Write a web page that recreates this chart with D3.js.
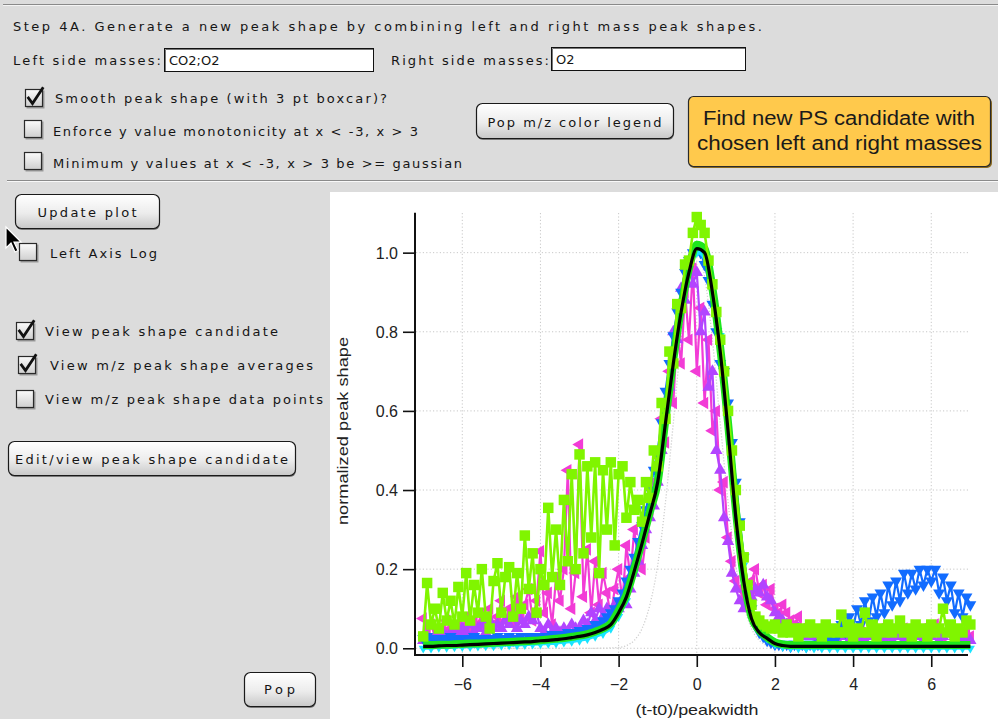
<!DOCTYPE html>
<html>
<head>
<meta charset="utf-8">
<script src="https://cdn.jsdelivr.net/npm/d3@7"></script>
<style>
  html, body { margin: 0; padding: 0; background: #dcdcdc; }
  svg { display: block; }
  .ui { font-family: "DejaVu Sans", Verdana, sans-serif; font-size: 13px; fill: #151515; }
  .ax { font-family: "Liberation Sans", Arial, sans-serif; fill: #222; }
</style>
</head>
<body>
<svg id="panel" width="998" height="719"></svg>
<script>
// ---------- data ----------
// abscissa grids: (t-t0)/peakwidth
const xFine = d3.range(141).map(i => +(-7 + i * 0.1).toFixed(1));
const xCoarse = d3.range(71).map(i => +(-7 + i * 0.2).toFixed(1));

const xTicks = [-6, -4, -2, 0, 2, 4, 6];
const yTicks = [0.0, 0.2, 0.4, 0.6, 0.8, 1.0];

// reference gaussian (coarse grid)
const gaussian = [
  0,0,0,0,0,0,0,0,0,0,
  0,0,0,0,0,0,0,0,0,0,
  0,0,0,0.0002,0.001,0.002,0.007,0.02,0.05,0.11,
  0.21,0.37,0.57,0.78,0.94,1.0,0.94,0.78,0.57,0.37,
  0.21,0.11,0.05,0.02,0.007,0.002,0.001,0,0,0,
  0,0,0,0,0,0,0,0,0,0,
  0,0,0,0,0,0,0,0,0,0,
  0
];

// m/z peak shape averages (fine grid)
const mzLime = [
  .03,.165,.06,.10,.05,.14,.07,.12,.06,.155,
  .08,.19,.07,.16,.09,.20,.08,.05,.17,.215,
  .09,.18,.205,.08,.19,.10,.285,.15,.24,.09,
  .20,.16,.355,.18,.30,.16,.375,.22,.44,.20,
  .49,.24,.46,.28,.47,.19,.45,.30,.47,.26,
  .44,.46,.33,.42,.35,.375,.32,.42,.38,.50,
  .46,.62,.58,.75,.72,.87,.86,.97,.98,1.05,
  1.09,1.07,1.05,.98,.92,.85,.78,.70,.60,.50,
  .40,.31,.23,.16,.11,.08,.07,.06,.055,.05,
  .06,.05,.04,.06,.04,.05,.03,.05,.04,.06,
  .04,.05,.03,.06,.04,.05,.04,.085,.04,.06,
  .03,.05,.04,.09,.04,.06,.03,.05,.04,.06,
  .04,.05,.07,.04,.05,.03,.06,.04,.05,.03,
  .06,.04,.05,.10,.04,.06,.03,.05,.04,.07,
  .06
];

const mzMagenta = [
  .075,.04,.06,.03,.05,.04,.07,.05,.04,.06,
  .05,.08,.04,.07,.06,.09,.05,.10,.06,.08,
  .12,.07,.10,.06,.13,.08,.11,.15,.07,.12,
  .245,.09,.14,.06,.18,.12,.20,.45,.10,.19,
  .515,.13,.25,.09,.22,.11,.19,.14,.08,.15,
  .20,.12,.26,.18,.30,.22,.20,.28,.35,.42,
  .45,.58,.52,.70,.62,.80,.72,.90,.78,.96,
  .70,.86,.62,.78,.55,.60,.40,.42,.28,.22,
  .17,.15,.12,.14,.17,.20,.14,.16,.11,.15,
  .10,.09,.11,.09,.07,.06,.08,.05,.04,.05,
  .03,.04,.03,.05,.03,.04,.03,.04,.05,.03,
  .04,.03,.05,.03,.04,.03,.04,.05,.03,.04,
  .03,.04,.03,.05,.04,.03,.04,.03,.05,.04,
  .05,.06,.04,.03,.04,.05,.03,.04,.03,.04,
  .03
];

const mzPurple = [
  .02,.03,.02,.03,.03,.04,.03,.04,.05,.04,
  .05,.04,.06,.04,.05,.06,.04,.07,.05,.06,
  .05,.07,.06,.08,.05,.07,.06,.08,.07,.09,
  .05,.04,.06,.04,.05,.04,.05,.04,.06,.05,
  .05,.07,.06,.09,.07,.10,.08,.10,.09,.11,
  .10,.12,.11,.15,.19,.22,.26,.30,.33,.36,
  .42,.50,.62,.66,.80,.78,.91,.88,.98,.92,
  .95,.80,.85,.66,.70,.50,.45,.33,.27,.19,
  .15,.12,.10,.11,.13,.15,.14,.16,.13,.12,
  .09,.08,.07,.06,.05,.04,.05,.03,.04,.03,
  .03,.02,.03,.04,.02,.03,.02,.03,.04,.02,
  .03,.02,.03,.02,.04,.03,.02,.03,.02,.03,
  .02,.03,.04,.02,.03,.02,.03,.04,.02,.03,
  .03,.04,.02,.03,.04,.05,.03,.02,.03,.02,
  .02
];

const mzBlue = [
  .025,.03,.02,.025,.02,.025,.02,.03,.02,.025,
  .02,.025,.02,.03,.02,.025,.02,.025,.02,.03,
  .025,.02,.03,.02,.025,.03,.02,.03,.025,.03,
  .03,.025,.03,.035,.03,.035,.03,.04,.035,.04,
  .045,.04,.05,.05,.06,.06,.07,.08,.09,.10,
  .12,.14,.17,.20,.23,.27,.31,.35,.40,.45,
  .50,.57,.65,.72,.79,.85,.90,.95,.98,1.0,
  1.01,1.0,.97,.93,.87,.80,.72,.70,.62,.52,
  .42,.32,.23,.16,.10,.06,.04,.03,.02,.015,
  .01,.01,.008,.01,.005,.01,.008,.01,.005,.01,
  .01,.01,.015,.015,.02,.025,.03,.06,.04,.08,
  .05,.10,.06,.12,.07,.13,.08,.14,.09,.16,
  .11,.17,.12,.19,.14,.19,.15,.20,.16,.20,
  .17,.20,.14,.18,.12,.16,.09,.14,.08,.13,
  .11
];

// smooth averages (coarse grid)
const mzCyan = [
  0,0,.002,.002,.003,.004,.004,.005,.006,.006,
  .007,.008,.008,.009,.01,.011,.012,.013,.015,.017,
  .02,.024,.03,.037,.05,.08,.12,.19,.26,.34,
  .43,.60,.75,.87,.96,1.0,.99,.92,.79,.60,
  .40,.21,.10,.05,.025,.01,.004,.002,0,0,
  0,0,0,0,0,0,0,0,0,0,
  0,0,0,0,0,0,0,0,0,0,
  0
];

const mzGreen = [
  .008,.008,.009,.009,.01,.011,.012,.012,.013,.014,
  .015,.016,.017,.018,.019,.02,.022,.024,.026,.029,
  .032,.036,.042,.05,.063,.095,.135,.20,.27,.345,
  .42,.58,.73,.86,.96,1.02,1.01,.91,.76,.57,
  .35,.18,.08,.045,.028,.015,.01,.008,.008,.008,
  .008,.008,.008,.008,.008,.008,.008,.008,.008,.008,
  .008,.008,.008,.008,.008,.008,.008,.008,.008,.008,
  .008
];

// peak shape candidate (coarse grid)
const candidate = [
  .005,.005,.006,.007,.007,.008,.009,.010,.011,.012,
  .013,.014,.015,.016,.017,.019,.020,.022,.024,.027,
  .030,.034,.040,.048,.060,.090,.130,.195,.265,.340,
  .420,.570,.720,.850,.950,1.010,1.000,.900,.750,.550,
  .330,.170,.075,.040,.025,.012,.007,.005,.005,.005,
  .005,.005,.005,.005,.005,.005,.005,.005,.005,.005,
  .005,.005,.005,.005,.005,.005,.005,.005,.005,.005,
  .005
];

// ---------- panel chrome ----------
const svg = d3.select("#panel");
const defs = svg.append("defs");
const btnGrad = defs.append("linearGradient").attr("id", "btnGrad")
  .attr("x1", 0).attr("y1", 0).attr("x2", 0).attr("y2", 1);
btnGrad.append("stop").attr("offset", "0%").attr("stop-color", "#ffffff");
btnGrad.append("stop").attr("offset", "55%").attr("stop-color", "#ececec");
btnGrad.append("stop").attr("offset", "100%").attr("stop-color", "#c8c8c8");
const cbGrad = defs.append("linearGradient").attr("id", "cbGrad")
  .attr("x1", 0).attr("y1", 0).attr("x2", 0).attr("y2", 1);
cbGrad.append("stop").attr("offset", "0%").attr("stop-color", "#fbfbfb");
cbGrad.append("stop").attr("offset", "100%").attr("stop-color", "#cfcfcf");

svg.append("rect").attr("width", 998).attr("height", 719).attr("fill", "#dcdcdc");

function hline(y, x0, x1, c) {
  svg.append("line").attr("x1", x0).attr("x2", x1).attr("y1", y + 0.5).attr("y2", y + 0.5)
    .attr("stroke", c).attr("stroke-width", 1);
}
hline(4, 3, 998, "#8a8a8a"); hline(5, 3, 998, "#f4f4f4");
hline(180, 7, 998, "#8a8a8a"); hline(181, 7, 998, "#f8f8f8");

function label(txt, x, y, w, anchor) {
  const t = svg.append("text").attr("class", "ui").attr("x", x).attr("y", y).text(txt);
  if (anchor) t.attr("text-anchor", anchor);
  if (w) t.attr("textLength", w).attr("lengthAdjust", "spacing");
  return t;
}

function button(x, y, w, h, txt, tw, base) {
  svg.append("rect").attr("x", x + 1).attr("y", y + 2).attr("width", w).attr("height", h)
    .attr("rx", 6).attr("fill", "#7a7a7a");
  svg.append("rect").attr("x", x + 0.5).attr("y", y + 0.5).attr("width", w).attr("height", h)
    .attr("rx", 6).attr("fill", "url(#btnGrad)").attr("stroke", "#1a1a1a").attr("stroke-width", 1.2);
  label(txt, x + w / 2, base, tw, "middle");
}

function checkbox(x, y, checked) {
  svg.append("rect").attr("x", x + 1.5).attr("y", y + 1.5).attr("width", 18).attr("height", 18)
    .attr("fill", "#9a9a9a");
  svg.append("rect").attr("x", x + 0.5).attr("y", y + 0.5).attr("width", 17).attr("height", 17)
    .attr("fill", "url(#cbGrad)").attr("stroke", "#2a2a2a").attr("stroke-width", 1.2);
  if (checked) {
    svg.append("path").attr("d", `M${x + 3.5},${y + 9} L${x + 7.5},${y + 14.5} L${x + 17.5},${y - 0.5}`)
      .attr("fill", "none").attr("stroke", "#111").attr("stroke-width", 2.8)
      .attr("stroke-linecap", "square");
  }
}

function inputBox(x, y, w, h, txt) {
  svg.append("rect").attr("x", x + 0.5).attr("y", y + 0.5).attr("width", w).attr("height", h)
    .attr("fill", "#fff").attr("stroke", "#111").attr("stroke-width", 1);
  svg.append("path").attr("d", `M${x + 1.5},${y + h} L${x + 1.5},${y + 1.5} L${x + w},${y + 1.5}`)
    .attr("fill", "none").attr("stroke", "#777").attr("stroke-width", 1);
  label(txt, x + 5, y + 17);
}

label("Step 4A. Generate a new peak shape by combining left and right mass peak shapes.", 13, 31, 749);
label("Left side masses:", 13, 65, 148);
inputBox(164, 48, 209, 23, "CO2;O2");
label("Right side masses:", 391, 65, 158);
inputBox(551, 47, 194, 23, "O2");

checkbox(25, 89, true);
label("Smooth peak shape (with 3 pt boxcar)?", 55, 103, 332);
checkbox(24, 120, false);
label("Enforce y value monotonicity at x < -3, x > 3", 53, 136, 365);
checkbox(24, 152, false);
label("Minimum y values at x < -3, x > 3 be >= gaussian", 53, 168, 409);

button(476, 103, 197, 35, "Pop m/z color legend", 174, 127);

// highlighted action button
svg.append("rect").attr("x", 689).attr("y", 98).attr("width", 303).attr("height", 70)
  .attr("rx", 5).attr("fill", "#8a6a20");
svg.append("rect").attr("x", 688.5).attr("y", 96.5).attr("width", 302).attr("height", 70)
  .attr("rx", 5).attr("fill", "#ffc94c").attr("stroke", "#2a2a2a").attr("stroke-width", 1.2);
svg.append("text").attr("class", "ax").attr("x", 839).attr("y", 125).attr("text-anchor", "middle")
  .style("font-size", "19.5px").style("fill", "#1a1a1a")
  .attr("textLength", 272).attr("lengthAdjust", "spacingAndGlyphs").text("Find new PS candidate with");
svg.append("text").attr("class", "ax").attr("x", 839.5).attr("y", 150).attr("text-anchor", "middle")
  .style("font-size", "19.5px").style("fill", "#1a1a1a")
  .attr("textLength", 285).attr("lengthAdjust", "spacingAndGlyphs").text("chosen left and right masses");

button(15, 194, 144, 34, "Update plot", 99, 217);
checkbox(19, 243, false);
label("Left Axis Log", 50, 258, 107);
checkbox(16, 322, true);
label("View peak shape candidate", 45, 336, 233);
checkbox(18, 356, true);
label("View m/z peak shape averages", 50, 370, 263);
checkbox(16, 390, false);
label("View m/z peak shape data points", 45, 404, 278);
button(8, 441, 287, 34, "Edit/view peak shape candidate", 273, 464);
button(244, 672, 71, 34, "Pop", 31, 694);

// mouse pointer resting over the panel
svg.append("path")
  .attr("d", "M6,227 L6,248 L11,243 L15,252 L18,250.5 L14,242 L21,242 Z")
  .attr("fill", "#000").attr("stroke", "#fff").attr("stroke-width", 1.2);

// ---------- graph ----------
svg.append("rect").attr("x", 330).attr("y", 192).attr("width", 668).attr("height", 527).attr("fill", "#fff");

const x = d3.scaleLinear().domain([-7.21, 6.94]).range([415, 968]);
const y = d3.scaleLinear().domain([-0.017, 1.101]).range([655, 212.7]);

const grid = svg.append("g");
grid.selectAll("line.gy").data(yTicks).join("line")
  .attr("x1", 416).attr("x2", 968).attr("y1", d => y(d)).attr("y2", d => y(d))
  .attr("stroke", "#c8c8c8").attr("stroke-dasharray", "1.2,2.2").attr("stroke-width", 1);
grid.selectAll("line.gx").data(xTicks).join("line")
  .attr("x1", d => x(d)).attr("x2", d => x(d)).attr("y1", 213).attr("y2", 654)
  .attr("stroke", "#c8c8c8").attr("stroke-dasharray", "1.2,2.2").attr("stroke-width", 1);

function drawSeries(xs, ys, opt) {
  const g = svg.append("g");
  const pts = xs.map((v, i) => [v, ys[i]]);
  if (opt.line) {
    g.append("path").datum(pts)
      .attr("d", d3.line().x(d => x(d[0])).y(d => y(d[1])).curve(opt.curve || d3.curveLinear))
      .attr("fill", "none").attr("stroke", opt.color).attr("stroke-width", opt.lw || 1.5)
      .attr("stroke-linejoin", "round")
      .attr("stroke-dasharray", opt.dash || null);
  }
  if (opt.marker) {
    const m = d3.symbol().type(opt.marker).size(opt.size)();
    g.selectAll("path.m").data(pts).join("path")
      .attr("d", m)
      .attr("transform", d => `translate(${x(d[0])},${y(d[1])}) rotate(${opt.rot || 0})`)
      .attr("fill", opt.color);
  }
}

drawSeries(xCoarse, gaussian, { color: "#cfcfcf", line: true, lw: 1.3, dash: "1.2,1.8", curve: d3.curveMonotoneX });
drawSeries(xFine, mzMagenta, { color: "#f23cd6", line: true, lw: 2.2, marker: d3.symbolTriangle, size: 68, rot: -90 });
drawSeries(xFine, mzPurple, { color: "#b244ff", line: true, lw: 2.2, marker: d3.symbolTriangle, size: 66, rot: 0 });
drawSeries(xFine, mzBlue, { color: "#126cff", line: true, lw: 2.2, marker: d3.symbolTriangle, size: 62, rot: 180 });
drawSeries(xCoarse, mzCyan, { color: "#18e4ff", line: true, lw: 3, marker: d3.symbolTriangle, size: 36, rot: 180, curve: d3.curveMonotoneX });
drawSeries(xCoarse, mzGreen, { color: "#1ee61e", line: true, lw: 8, curve: d3.curveMonotoneX });
drawSeries(xFine, mzLime, { color: "#80f500", line: true, lw: 2.6, marker: d3.symbolSquare, size: 110 });
drawSeries(xCoarse, candidate, { color: "#000", line: true, lw: 3.2, curve: d3.curveMonotoneX });

// axes
const yAxis = svg.append("g").attr("transform", "translate(415,0)")
  .call(d3.axisLeft(y).tickValues(yTicks).tickFormat(d3.format(".1f")).tickSize(12).tickPadding(5));
const xAxis = svg.append("g").attr("transform", "translate(0,655)")
  .call(d3.axisBottom(x).tickValues(xTicks).tickFormat(d3.format("d")).tickSize(12).tickPadding(12));
[yAxis, xAxis].forEach(a => {
  a.select(".domain").remove();
  a.selectAll(".tick line").attr("stroke", "#111").attr("stroke-width", 1.6);
  a.selectAll(".tick text").attr("class", "ax").style("font-size", "16px").style("fill", "#222");
});
yAxis.selectAll(".tick text").attr("dy", "0.35em");
svg.append("line").attr("x1", 415).attr("x2", 415).attr("y1", 212.7).attr("y2", 656)
  .attr("stroke", "#111").attr("stroke-width", 2);
svg.append("line").attr("x1", 414).attr("x2", 968).attr("y1", 655).attr("y2", 655)
  .attr("stroke", "#111").attr("stroke-width", 2);

svg.append("text").attr("class", "ax").attr("transform", "translate(348,431) rotate(-90)")
  .attr("text-anchor", "middle").style("font-size", "14px")
  .attr("textLength", 188).attr("lengthAdjust", "spacingAndGlyphs").text("normalized peak shape");
svg.append("text").attr("class", "ax").attr("x", 697).attr("y", 715)
  .attr("text-anchor", "middle").style("font-size", "15px")
  .attr("textLength", 123).attr("lengthAdjust", "spacingAndGlyphs").text("(t-t0)/peakwidth");
</script>
</body>
</html>
